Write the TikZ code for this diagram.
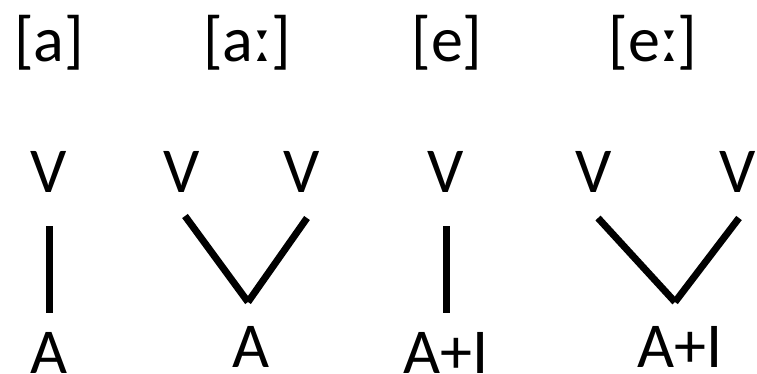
\documentclass[tikz,border=0pt]{standalone}
\usepackage{fontspec}
\setmainfont{Carlito}
\usetikzlibrary{positioning}

\begin{document}
\begin{tikzpicture}[
    x=1pt, y=-1pt,
    font=\fontsize{64}{64}\selectfont,
    seg/.style={inner sep=0pt, anchor=base},
    link/.style={line width=7pt}
]
\useasboundingbox (0,0) rectangle (757,374);
% transcriptions
\node[seg] (ta)  at (49,62)  {[a]};
\node[seg] (taa) at (247,62) {[aː]};
\node[seg] (te)  at (447,62) {[e]};
\node[seg] (tee) at (653,62) {[eː]};
% skeleton slots
\node[seg] (v1) at (49,193)  {V};
\node[seg] (v2) at (182,193) {V};
\node[seg] (v3) at (302,193) {V};
\node[seg] (v4) at (446,193) {V};
\node[seg] (v5) at (594,193) {V};
\node[seg] (v6) at (738,193) {V};
% melodies
\node[seg] (a1) at (49,373)  {A};
\node[seg] (a2) at (251,367) {A};
\node[seg] (a3) at (446,373) {A+I};
\node[seg] (a4) at (680,367) {A+I};
% branching points
\coordinate (l1) at (185,216);
\coordinate (j1) at (248,302);
\coordinate (r1) at (307,218);
\coordinate (l2) at (598,218);
\coordinate (j2) at (675,302);
\coordinate (r2) at (739,218);

\foreach \a/\b in {v1/a1, v4/a3}
  \draw[link, shorten <=33pt, shorten >=19pt] (\a.south) -- (\b.north);
\foreach \a/\b/\c in {l1/j1/r1, l2/j2/r2}{
  \draw[link] (\a) -- (\b);
  \draw[link] (\c) -- (\b);
}
\end{tikzpicture}
\end{document}
